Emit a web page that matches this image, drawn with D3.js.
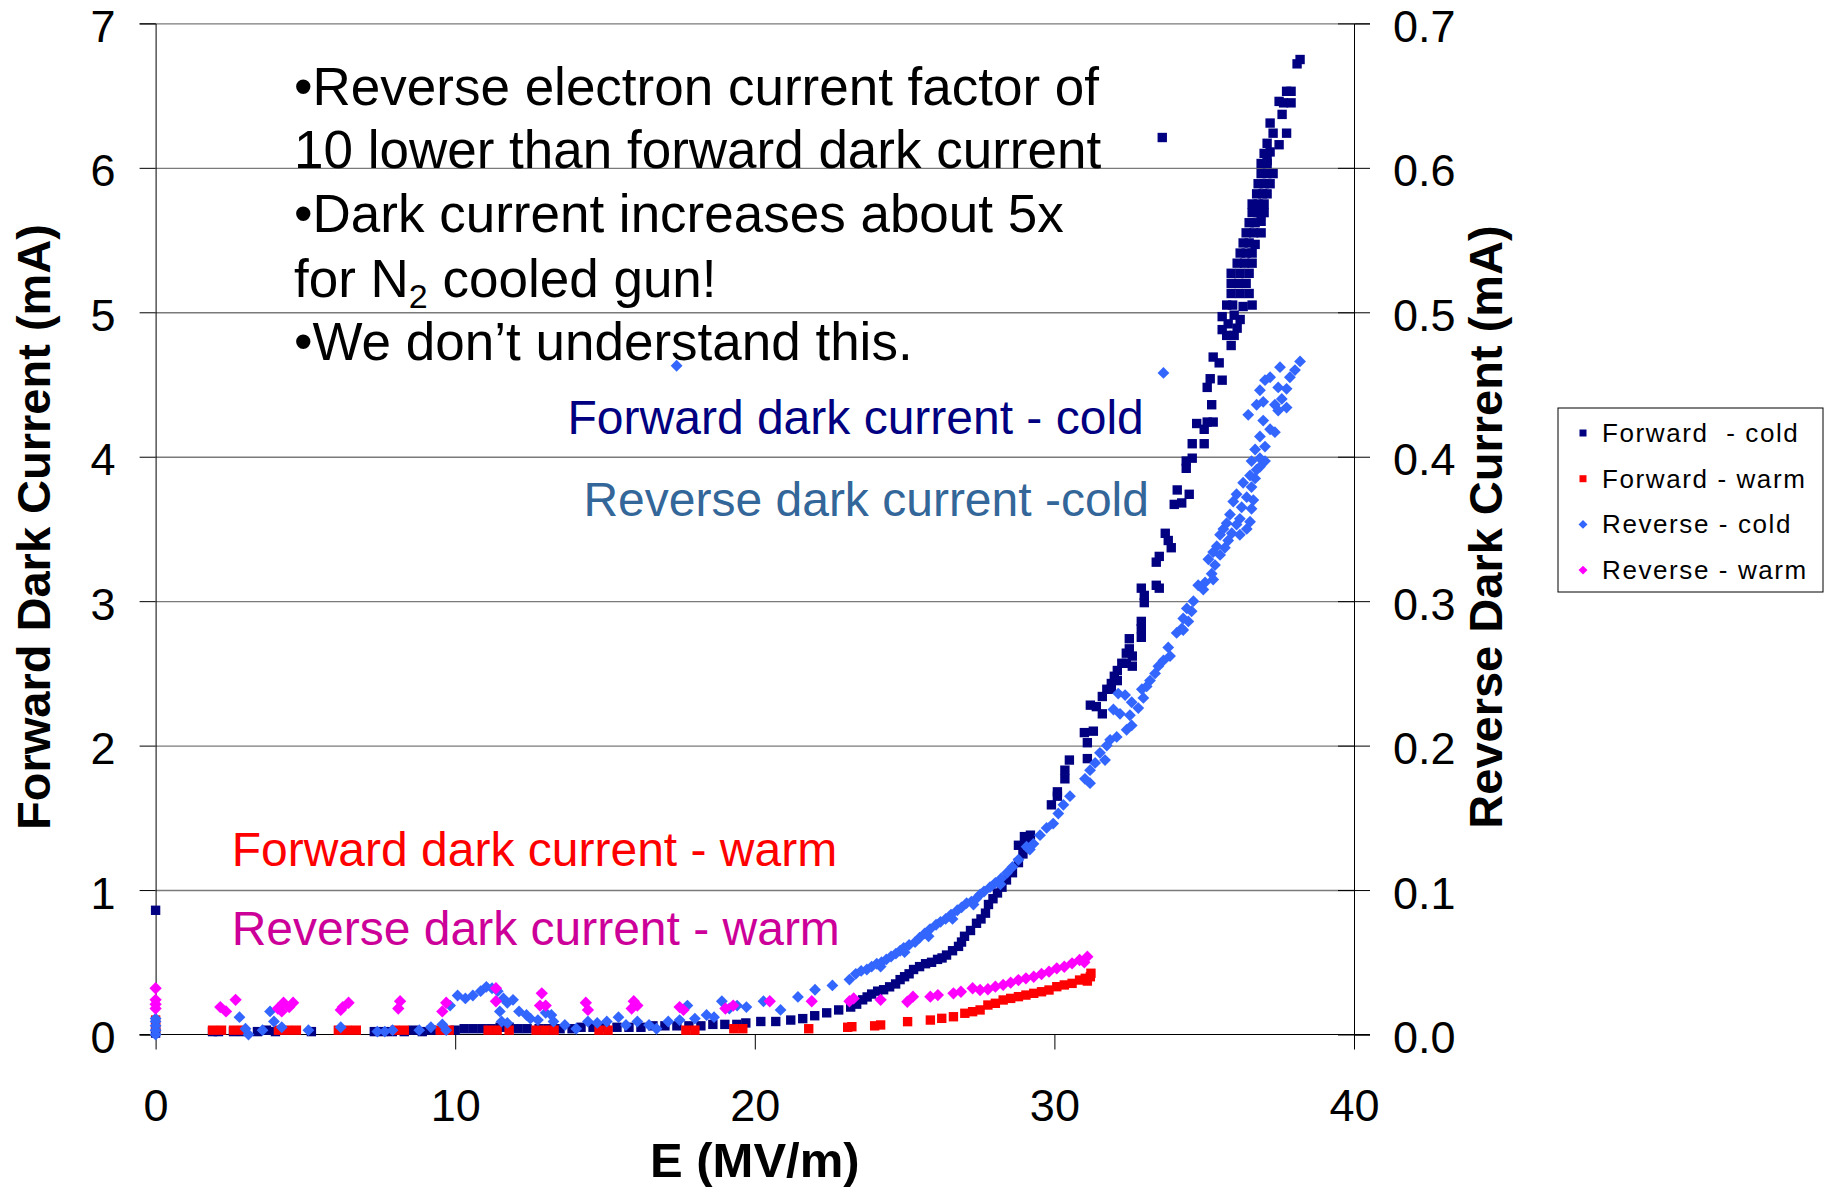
<!DOCTYPE html>
<html lang="en">
<head>
<meta charset="utf-8">
<title>Dark current vs E</title>
<script src="https://d3js.org/d3.v7.min.js"></script>
<style>
  body { margin: 0; background: #fff; }
  svg text { font-family: Arial, "Liberation Sans", sans-serif; }
</style>
</head>
<body>
<div class="chart"></div>
<script>
// axis ticks
const xTicks = [0, 10, 20, 30, 40];
const leftTicks = [0, 1, 2, 3, 4, 5, 6, 7];
const rightTicks = [0, 0.1, 0.2, 0.3, 0.4, 0.5, 0.6, 0.7];

// [E (MV/m), forward current (mA)] - left axis
const fwdCold = [
  [0,0.86],[0,0.03],[0,0.01],
  [1.9,0.02],[2.1,0.02],[2.6,0.02],[2.9,0.02],[3.4,0.02],[3.7,0.03],[4.0,0.02],[5.2,0.02],
  [7.3,0.02],[7.6,0.02],[7.9,0.02],[8.3,0.02],[8.6,0.03],[8.9,0.02],[9.2,0.03],[9.6,0.03],
  [10.0,0.03],[10.3,0.04],[10.6,0.04],[10.9,0.04],[11.2,0.04],[11.5,0.05],[11.8,0.05],[12.1,0.04],
  [12.4,0.04],[12.8,0.04],[13.1,0.04],[13.5,0.04],[13.9,0.04],[14.2,0.05],[14.6,0.05],[15.0,0.05],
  [15.4,0.05],[15.8,0.05],[16.2,0.05],[16.6,0.06],[17.0,0.06],[17.4,0.06],[17.8,0.06],[18.2,0.06],
  [18.6,0.07],[19.0,0.07],[19.4,0.07],[19.7,0.08],
  [20.2,0.09],[20.7,0.09],[21.2,0.10],[21.6,0.11],[22.0,0.13],[22.4,0.15],[22.8,0.17],[23.2,0.19],
  [23.4,0.21],[23.6,0.24],[23.75,0.26],[23.9,0.28],[24.1,0.30],[24.3,0.31],[24.5,0.33],[24.7,0.35],
  [24.85,0.38],[25.0,0.40],[25.15,0.42],[25.3,0.45],[25.5,0.47],[25.7,0.49],[25.9,0.50],[26.1,0.52],
  [26.25,0.53],[26.4,0.55],[26.6,0.58],[26.8,0.61],[26.9,0.64],[27.0,0.68],[27.2,0.72],[27.4,0.77],
  [27.55,0.80],[27.7,0.84],[27.8,0.90],[27.95,0.94],[28.1,0.98],[28.25,1.02],[28.4,1.07],[28.6,1.12],
  [28.8,1.19],[28.95,1.25],[28.8,1.31],[29.0,1.37],[29.1,1.32],[29.2,1.38],[29.9,1.59],[30.1,1.65],
  [30.1,1.68],
  [30.35,1.77],[30.35,1.83],[30.5,1.90],[31.0,2.09],[31.1,1.91],[31.1,2.02],[31.3,2.10],[31.2,2.28],
  [31.4,2.27],[31.6,2.22],[31.6,2.34],[31.75,2.39],[31.9,2.39],[31.9,2.43],[32.0,2.48],[32.1,2.52],
  [32.1,2.45],[32.25,2.57],[32.4,2.57],[32.4,2.64],[32.5,2.67],[32.6,2.62],[32.6,2.55],[32.5,2.74],
  [32.9,2.75],[32.9,2.81],[32.9,2.86],[33.0,2.99],[33.0,3.04],[32.9,3.09],[33.4,3.11],[33.5,3.09],
  [33.4,3.27],[33.5,3.31],[33.9,3.37],[33.7,3.47],[33.8,3.42],[34.0,3.67],[34.25,3.68],[34.1,3.77],
  [34.5,3.74],[34.4,3.92],[34.4,3.97],[34.6,3.99],[34.6,4.09],[35.0,4.09],[34.75,4.23],[35.0,4.19],
  [35.1,4.24],[35.3,4.24],[35.25,4.36],[35.1,4.48],[35.2,4.54],[35.6,4.53],[35.3,4.69],[35.5,4.65],
  [35.9,4.77],[35.75,4.84],[36.0,4.84],[35.6,4.88],[36.1,4.89],[35.6,4.97],[36.0,4.98],[35.75,5.05],
  [35.8,4.92],[36.2,4.95],[35.95,5.05],
  [36.3,5.04],[36.6,5.05],[35.9,5.13],[36.5,5.13],[35.9,5.20],[36.4,5.20],[35.9,5.27],[36.5,5.27],
  [36.2,5.13],[36.15,5.20],[36.2,5.27],[36.35,5.34],[36.4,5.41],[36.5,5.48],[36.65,5.55],[36.7,5.62],
  [36.1,5.34],[36.6,5.34],[36.2,5.41],[36.6,5.41],[36.3,5.48],[36.7,5.47],[36.4,5.55],[36.9,5.55],
  [36.5,5.62],[36.9,5.63],[36.6,5.69],[37.0,5.69],[36.6,5.75],[37.0,5.75],[36.75,5.82],[37.1,5.82],
  [36.8,5.69],[36.8,5.75],[36.95,5.82],[37.0,5.89],[37.1,5.96],[37.1,6.03],
  [36.8,5.89],[37.2,5.89],[36.9,5.96],[37.3,5.96],[36.9,6.03],[37.1,6.05],[37.0,6.10],[37.2,6.11],
  [37.1,6.17],[37.5,6.16],[37.3,6.24],[37.75,6.24],[37.2,6.31],[37.6,6.37],[37.5,6.46],[37.65,6.45],
  [37.9,6.45],[37.75,6.53],[37.9,6.53],[38.1,6.72],[38.2,6.75],
  [33.6,6.21]
];

const fwdWarm = [
  [0,0.10],[0,0.05],
  [1.9,0.03],[2.2,0.03],[2.6,0.03],[2.9,0.03],[4.1,0.03],[4.4,0.03],[4.7,0.03],[6.1,0.03],
  [6.4,0.03],[6.7,0.03],[8.0,0.03],[8.3,0.03],[9.5,0.03],[9.8,0.03],[11.1,0.03],[11.4,0.03],
  [11.8,0.03],[12.7,0.03],[13.0,0.03],[13.3,0.03],[14.8,0.03],[15.1,0.03],[17.7,0.03],[18.0,0.03],
  [19.3,0.04],[19.6,0.04],[21.8,0.04],[23.1,0.05],[23.24,0.054],[24.0,0.06],[24.2,0.066],
  [25.1,0.089],[25.86,0.10],[26.24,0.112],[26.63,0.123],[27.01,0.147],[27.27,0.158],[27.52,0.17],
  [27.78,0.204],[28.03,0.216],[28.29,0.239],[28.54,0.25],[28.8,0.262],[29.05,0.273],[29.31,0.285],
  [29.57,0.296],[29.82,0.308],[30.08,0.331],[30.33,0.343],[30.59,0.354],[30.84,0.377],[31.03,0.389],
  [31.22,0.424],[31.2,0.40],[31.1,0.37]
];

// [E (MV/m), reverse current (mA)] - right axis
const revCold = [
  [0,0.0],[0,0.003],[0,0.006],[0,0.009],[0,0.011],
  [2.8,0.012],[3.0,0.004],[3.1,0.0],[3.57,0.003],[3.82,0.016],[3.95,0.009],[4.21,0.005],[5.1,0.003],
  [6.18,0.005],[7.4,0.002],[7.65,0.002],[7.91,0.003],[8.8,0.003],[9.19,0.005],[9.57,0.007],[9.7,0.003],
  [9.83,0.020],[10.08,0.027],[10.34,0.025],[10.59,0.027],[10.85,0.030],[11.04,0.033],[11.23,0.032],
  [11.42,0.030],[11.61,0.025],[11.74,0.022],[11.93,0.024],[11.49,0.016],[11.55,0.009],[11.74,0.008],
  [12.13,0.016],[12.38,0.0135],[12.51,0.011],[12.76,0.010],[13.02,0.015],[13.21,0.0135],[13.28,0.009],
  [13.66,0.0066],[14.04,0.004],[14.43,0.009],[14.74,0.008],[15.06,0.009],[15.45,0.012],[15.7,0.0066],
  [16.08,0.009],[16.47,0.0066],[16.72,0.004],[17.11,0.009],[17.49,0.010],[17.75,0.020],[18.0,0.011],
  [18.39,0.0135],[18.64,0.012],[18.9,0.023],[19.15,0.018],[19.41,0.020],[19.72,0.019],[20.29,0.023],
  [20.86,0.017],[21.44,0.026],[22.01,0.031],[22.59,0.034],[23.16,0.038],[23.37,0.042],[23.74,0.045],
  [23.55,0.044],[23.9,0.047],[24.23,0.050],[24.55,0.054],[24.85,0.058],[25.15,0.062],[25.5,0.067],
  [25.85,0.073],[26.2,0.078],[26.55,0.083],[26.9,0.088],[27.23,0.092],[27.52,0.097],[27.85,0.102],
  [28.22,0.108],[28.6,0.116],[24.2,0.047],[25.0,0.057],[25.8,0.068],[26.6,0.080],[27.3,0.090],[28.2,0.104],
  [24.07,0.049],[24.39,0.052],[24.71,0.056],[24.97,0.060],[25.35,0.064],[25.67,0.070],[26.05,0.076],
  [26.37,0.080],[26.76,0.086],[27.07,0.091],[27.39,0.094],[27.65,0.099],[28.03,0.105],[28.42,0.112],
  [28.8,0.121],[29.07,0.130],[29.18,0.128],[29.3,0.132],[29.52,0.138],[29.74,0.143],[29.96,0.146],
  [30.13,0.153],[30.3,0.159],[30.52,0.165],[31.02,0.177],[31.19,0.174],[31.19,0.183],[31.36,0.188],
  [31.69,0.190],[31.52,0.195],[31.75,0.200],[31.86,0.204],[32.08,0.206],[32.41,0.211],[32.58,0.214],
  [32.52,0.221],[32.19,0.222],[31.97,0.225],[32.8,0.226],[32.58,0.230],[32.97,0.233],[32.13,0.236],
  [32.36,0.235],[32.92,0.239],[33.08,0.241],[33.19,0.245],[33.36,0.250],[33.47,0.255],[33.64,0.259],
  [33.86,0.262],[33.8,0.268],[34.08,0.278],[34.3,0.280],[34.25,0.281],[34.47,0.286],[34.3,0.288],
  [34.58,0.293],[34.42,0.295],[34.64,0.300],[34.97,0.308],[34.8,0.311],[35.03,0.313],[35.3,0.315],
  [35.25,0.319],[35.36,0.325],[35.14,0.329],[35.53,0.332],[35.3,0.334],[35.69,0.337],[35.42,0.338],
  [35.8,0.342],[35.53,0.346],[36.19,0.346],[35.92,0.347],[35.64,0.350],[36.42,0.350],[36.08,0.353],
  [35.75,0.354],[36.53,0.355],[36.19,0.357],[35.86,0.360],[36.58,0.364],[36.25,0.365],[35.97,0.369],
  [36.64,0.370],[36.42,0.372],[36.08,0.374],[36.7,0.385],[36.58,0.379],[36.3,0.382],[36.86,0.393],
  [36.53,0.387],[36.75,0.391],[37.03,0.397],[36.58,0.397],[36.86,0.399],[36.7,0.405],[37.03,0.407],
  [36.86,0.414],[37.36,0.417],[37.2,0.419],[36.97,0.425],[36.47,0.429],[37.75,0.434],[37.47,0.432],
  [36.75,0.436],[37.36,0.436],[37.59,0.440],[36.97,0.438],[37.47,0.448],[37.75,0.447],[36.86,0.446],
  [37.03,0.453],[37.2,0.455],[37.86,0.455],[37.53,0.462],[38.03,0.460],[38.2,0.466],
  [33.64,0.458],[17.39,0.463]
];

const revWarm = [
  [0,0.032],[0,0.024],[0,0.018],[0,0.021],
  [2.16,0.019],[2.35,0.016],[2.67,0.024],[4.08,0.018],[4.21,0.016],[4.27,0.022],[4.46,0.019],
  [4.59,0.022],[6.18,0.017],[6.25,0.019],[6.44,0.022],[8.1,0.018],[8.16,0.023],[9.57,0.016],
  [9.7,0.022],[11.36,0.032],[11.36,0.023],[12.83,0.020],[12.89,0.0285],[13.02,0.020],[14.36,0.022],
  [14.43,0.017],[15.89,0.018],[15.96,0.023],[16.08,0.020],[17.49,0.019],[17.62,0.017],[19.02,0.018],
  [19.28,0.020],[20.5,0.023],[21.9,0.023],[23.16,0.023],[23.3,0.025],[24.2,0.024],[25.09,0.0227],
  [25.28,0.0262],[25.86,0.0262],[26.11,0.0273],[26.63,0.0285],[26.88,0.0296],[27.27,0.032],
  [27.52,0.0308],[27.78,0.0313],[28.03,0.0331],[28.29,0.0343],[28.54,0.0359],[28.8,0.0377],
  [29.05,0.0389],[29.31,0.040],[29.57,0.0419],[29.82,0.0435],[30.08,0.0458],[30.33,0.0469],
  [30.59,0.0493],[30.84,0.0516],[31.1,0.0539],[31.0,0.050]
];

const seriesNames = ["Forward  - cold", "Forward - warm", "Reverse - cold", "Reverse - warm"];
const seriesColors = ["#000080", "#ff0000", "#3366ff", "#ff00ff"];

const calloutText = ["Forward dark current - cold", "Reverse dark current -cold",
                     "Forward dark current - warm", "Reverse dark current - warm"];
const calloutColors = ["#000080", "#336699", "#ff0000", "#cc0099"];

const notes = ["\u2022Reverse electron current factor of", "10 lower than forward dark current",
               "\u2022Dark current increases about 5x", "for N", "\u2022We don\u2019t understand this."];

const width = 1835, height = 1187;
const plotLeft = 155.6, plotRight = 1354, plotTop = 23.4, plotBottom = 1034.5;
const font = "Arial, 'Liberation Sans', sans-serif";

const svg = d3.select(".chart").append("svg")
    .attr("width", width)
    .attr("height", height)
    .style("background", "#fff");

const x = d3.scaleLinear().domain([0, 40]).range([plotLeft, plotRight]);
const yL = d3.scaleLinear().domain([0, 7]).range([plotBottom, plotTop]);
const yR = d3.scaleLinear().domain([0, 0.7]).range([plotBottom, plotTop]);

// gridlines
svg.append("g")
    .attr("transform", `translate(${plotLeft},0)`)
    .call(d3.axisLeft(yL).tickValues(leftTicks.slice(1)).tickSize(-(plotRight - plotLeft)).tickFormat(""))
    .call(g => g.select(".domain").remove())
    .call(g => g.selectAll("line").attr("stroke", "#7a7a7a").attr("stroke-width", 1.4));

// left axis
svg.append("g")
    .attr("transform", `translate(${plotLeft},0)`)
    .call(d3.axisLeft(yL).tickValues(leftTicks).tickSize(16).tickPadding(24).tickFormat(d3.format("d")))
    .call(g => g.selectAll("text").attr("font-size", 45).attr("fill", "#000")
        .attr("dy", "0.4em").attr("font-family", font));

// right axis
svg.append("g")
    .attr("transform", `translate(${plotRight},0)`)
    .call(d3.axisRight(yR).tickValues(rightTicks).tickSize(16).tickPadding(23).tickFormat(d3.format(".1f")))
    .call(g => g.selectAll("text").attr("font-size", 45).attr("fill", "#000")
        .attr("dy", "0.4em").attr("font-family", font));
svg.append("g")
    .attr("transform", `translate(${plotRight},0)`)
    .call(d3.axisRight(yR).tickValues(rightTicks).tickSize(-16).tickFormat(""))
    .call(g => g.select(".domain").remove());

// bottom axis
svg.append("g")
    .attr("transform", `translate(0,${plotBottom})`)
    .call(d3.axisBottom(x).tickValues(xTicks).tickSize(15).tickPadding(40).tickFormat(d3.format("d")))
    .call(g => g.select(".domain").attr("d", `M${plotLeft - 16},0H${plotRight + 16}`))
    .call(g => g.selectAll("text").attr("font-size", 45).attr("fill", "#000")
        .attr("font-family", font));

// axis titles
svg.append("text")
    .attr("transform", `translate(50,527) rotate(-90)`)
    .attr("text-anchor", "middle")
    .attr("font-size", 47).attr("font-weight", "bold")
    .text("Forward Dark Current (mA)");
svg.append("text")
    .attr("transform", `translate(1502,527) rotate(-90)`)
    .attr("text-anchor", "middle")
    .attr("font-size", 47).attr("font-weight", "bold")
    .text("Reverse Dark Current (mA)");
svg.append("text")
    .attr("x", x(20)).attr("y", 1177)
    .attr("text-anchor", "middle")
    .attr("font-size", 49).attr("font-weight", "bold")
    .text("E (MV/m)");

// series
const square = d3.symbol().type(d3.symbolSquare);
const diamond = d3.symbol().type(d3.symbolSquare);

function drawSquares(data, yScale, color, size) {
    svg.append("g").selectAll("path")
        .data(data)
        .enter()
        .append("path")
        .attr("d", square.size(size)())
        .attr("transform", d => `translate(${x(d[0])},${yScale(d[1])})`)
        .attr("fill", color);
}
function drawDiamonds(data, yScale, color, size) {
    svg.append("g").selectAll("path")
        .data(data)
        .enter()
        .append("path")
        .attr("d", diamond.size(size)())
        .attr("transform", d => `translate(${x(d[0])},${yScale(d[1])}) rotate(45)`)
        .attr("fill", color);
}
drawSquares(fwdCold, yL, seriesColors[0], 88);
drawSquares(fwdWarm, yL, seriesColors[1], 88);
drawDiamonds(revCold, yR, seriesColors[2], 70);
drawDiamonds(revWarm, yR, seriesColors[3], 76);

// notes
const noteY = [6.435, 5.999, 5.553, 5.103, 4.672];
const notesG = svg.append("g").attr("font-size", 53).attr("fill", "#000");
notes.forEach((t, i) => {
    const tx = notesG.append("text").attr("x", x(4.62)).attr("y", yL(noteY[i]));
    tx.append("tspan").text(t);
    if (i === 3) {
        tx.append("tspan").attr("font-size", 34).attr("dy", 11).text("2");
        tx.append("tspan").attr("dy", -11).text(" cooled gun!");
    }
});

// callouts
const calloutPos = [[13.75, 4.16], [14.28, 3.59], [2.54, 1.165], [2.54, 0.62]];
calloutText.forEach((t, i) => {
    svg.append("text")
        .attr("x", x(calloutPos[i][0]))
        .attr("y", yL(calloutPos[i][1]))
        .attr("font-size", 48)
        .attr("fill", calloutColors[i])
        .text(t);
});

// legend
const legend = svg.append("g").attr("transform", "translate(1558,408)");
legend.append("rect")
    .attr("width", 265).attr("height", 184)
    .attr("fill", "#fff").attr("stroke", "#000").attr("stroke-width", 1);
seriesNames.forEach((name, i) => {
    const cy = 25 + i * 45.7;
    legend.append("path")
        .attr("d", (i < 2 ? square.size(49) : diamond.size(40))())
        .attr("transform", `translate(25,${cy})` + (i < 2 ? "" : " rotate(45)"))
        .attr("fill", seriesColors[i]);
    legend.append("text")
        .attr("x", 44).attr("y", cy + 9)
        .attr("font-size", 26)
        .style("white-space", "pre")
        .attr("letter-spacing", 1.6)
        .text(name);
});
</script>
</body>
</html>
